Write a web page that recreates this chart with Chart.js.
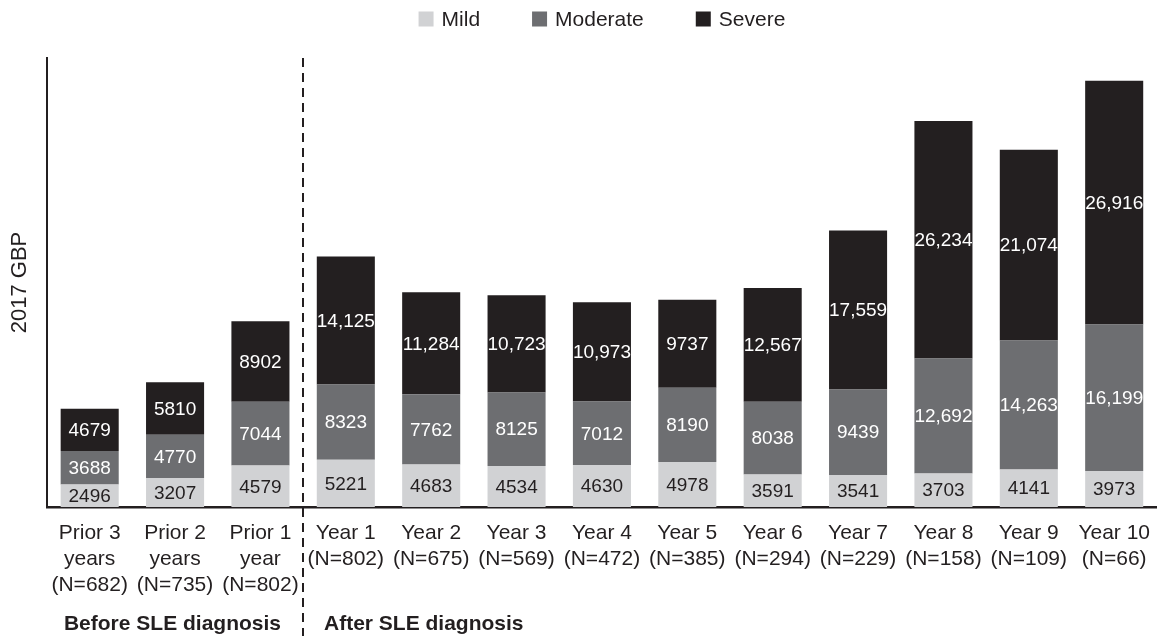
<!DOCTYPE html>
<html>
<head>
<meta charset="utf-8">
<script src="https://cdn.jsdelivr.net/npm/chart.js@4.4.1/dist/chart.umd.min.js"></script>
<style>
  body { margin: 0; background: #fff; }
  #wrap { width: 1163px; height: 636px; }
</style>
</head>
<body>
<div id="wrap"><canvas id="myChart"></canvas></div>
<script>
const labels = [
    ["Prior 3", "years", "(N=682)"],
    ["Prior 2", "years", "(N=735)"],
    ["Prior 1", "year", "(N=802)"],
    ["Year 1", "(N=802)"],
    ["Year 2", "(N=675)"],
    ["Year 3", "(N=569)"],
    ["Year 4", "(N=472)"],
    ["Year 5", "(N=385)"],
    ["Year 6", "(N=294)"],
    ["Year 7", "(N=229)"],
    ["Year 8", "(N=158)"],
    ["Year 9", "(N=109)"],
    ["Year 10", "(N=66)"],
];

const mild = [2496, 3207, 4579, 5221, 4683, 4534, 4630, 4978, 3591, 3541, 3703, 4141, 3973];
const moderate = [3688, 4770, 7044, 8323, 7762, 8125, 7012, 8190, 8038, 9439, 12692, 14263, 16199];
const severe = [4679, 5810, 8902, 14125, 11284, 10723, 10973, 9737, 12567, 17559, 26234, 21074, 26916];

const groupLabels = ["Before SLE diagnosis", "After SLE diagnosis"];

const ink = "#231f20";
const fontFamily = "'Liberation Sans', Arial, sans-serif";

function fmt(v) {
    return v >= 10000 ? v.toLocaleString("en-US") : String(v);
}

// numbers inside the bar segments
const valueLabels = {
    id: "valueLabels",
    afterDatasetsDraw(chart) {
        const ctx = chart.ctx;
        ctx.save();
        ctx.font = "19px " + fontFamily;
        ctx.textAlign = "center";
        ctx.textBaseline = "middle";
        chart.data.datasets.forEach((ds, i) => {
            const meta = chart.getDatasetMeta(i);
            ctx.fillStyle = i === 0 ? ink : "#ffffff";
            meta.data.forEach((bar, j) => {
                const mid = (bar.y + bar.base) / 2;
                ctx.fillText(fmt(ds.data[j]), bar.x, mid + 1);
            });
        });
        ctx.restore();
    }
};

// legend, divider line and the before/after captions
const extras = {
    id: "extras",
    afterDraw(chart) {
        const ctx = chart.ctx;
        const x = chart.scales.x;
        const area = chart.chartArea;
        ctx.save();

        // legend
        ctx.font = "21px " + fontFamily;
        ctx.textBaseline = "middle";
        const box = 15, gapText = 8, gapItem = 52;
        const items = chart.data.datasets.map(d => ({ text: d.label, color: d.backgroundColor }));
        let total = 0;
        items.forEach((it, i) => {
            it.w = box + gapText + ctx.measureText(it.text).width;
            total += it.w + (i ? gapItem : 0);
        });
        let lx = (area.left + area.right) / 2 - total / 2;
        const ly = 19;
        items.forEach(it => {
            ctx.fillStyle = it.color;
            ctx.fillRect(lx, ly - box / 2, box, box);
            ctx.fillStyle = ink;
            ctx.textAlign = "left";
            ctx.fillText(it.text, lx + box + gapText, ly + 1);
            lx += it.w + gapItem;
        });

        // dashed divider
        const dx = Math.round((x.getPixelForValue(2) + x.getPixelForValue(3)) / 2);
        ctx.strokeStyle = ink;
        ctx.lineWidth = 2;
        ctx.setLineDash([9, 6]);
        ctx.beginPath();
        ctx.moveTo(dx, area.top);
        ctx.lineTo(dx, chart.height);
        ctx.stroke();
        ctx.setLineDash([]);

        // group captions
        ctx.font = "bold 21px " + fontFamily;
        ctx.fillStyle = ink;
        ctx.textAlign = "right";
        ctx.fillText(groupLabels[0], dx - 22, 624);
        ctx.textAlign = "left";
        ctx.fillText(groupLabels[1], dx + 21, 624);

        ctx.restore();
    }
};

const data = {
    labels,
    datasets: [
        { label: "Mild", data: mild, backgroundColor: "#d1d2d4" },
        { label: "Moderate", data: moderate, backgroundColor: "#6d6e71" },
        { label: "Severe", data: severe, backgroundColor: "#231f20" },
    ]
};

const config = {
    type: "bar",
    data: data,
    options: {
        responsive: true,
        maintainAspectRatio: false,
        animation: false,
        barPercentage: 0.68,
        categoryPercentage: 1,
        layout: { padding: { top: 58, right: 0, bottom: 0, left: 0 } },
        plugins: {
            legend: { display: false },
            tooltip: { enabled: false }
        },
        scales: {
            x: {
                stacked: true,
                grid: { display: false, drawTicks: false },
                border: { display: true, color: ink, width: 2.5 },
                ticks: {
                    color: ink,
                    autoSkip: false,
                    maxRotation: 0,
                    padding: 13,
                    font: { family: fontFamily, size: 21, lineHeight: 1.24 }
                },
                afterFit: (scale) => { scale.height = 129; }
            },
            y: {
                stacked: true,
                min: 0,
                max: 49600,
                grid: { display: false, drawTicks: false },
                border: { display: true, color: ink, width: 2 },
                ticks: { display: false },
                title: {
                    display: true,
                    text: "2017 GBP",
                    color: ink,
                    padding: { top: 7, bottom: 0 },
                    font: { family: fontFamily, size: 22 }
                },
                afterFit: (scale) => { scale.width = 47; }
            }
        }
    },
    plugins: [valueLabels, extras]
};

const ctx = document.querySelector("#myChart").getContext("2d");
const myChart = new Chart(ctx, config);
</script>
</body>
</html>
